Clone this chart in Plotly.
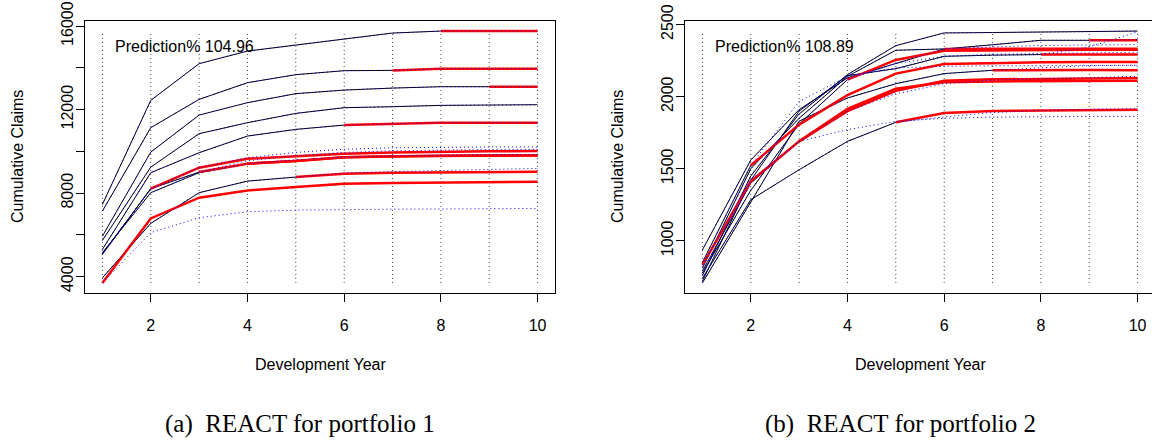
import plotly.graph_objects as go

# ---------------- data ----------------
dev_years = list(range(1, 11))
x_tick_vals = [2, 4, 6, 8, 10]

# Portfolio 1: observed run-off triangle (accident years 1..10)
p1_observed = [
    [5735, 9246, 10846, 11373, 11818, 12091, 12139, 12202, 12218, 12234],
    [5941, 9965, 11737, 12331, 12762, 12935, 13030, 13097, 13097],
    [7459, 12441, 14198, 14802, 15090, 15363, 15665, 15760],
    [7139, 11133, 12489, 13289, 13672, 13863, 13878],
    [5304, 8978, 9935, 10733, 11052, 11258],
    [3948, 6550, 8020, 8576, 8768],
    [5146, 8020, 8978, 9409],
    [5065, 8212, 9007],
    [5100, 8212],
    [3700],
]
# Portfolio 1: REACT predictions for the future cells
p1_predicted = [
    [],
    [13097],
    [15760, 15760],
    [13959, 13959, 13959],
    [11330, 11373, 11373, 11373],
    [8930, 8975, 9000, 9015, 9025],
    [9540, 9720, 9770, 9790, 9800, 9807],
    [9409, 9540, 9720, 9770, 9790, 9800, 9807],
    [9217, 9648, 9750, 9880, 9940, 9980, 10000, 10013],
    [6789, 7780, 8130, 8290, 8450, 8480, 8510, 8530, 8550],
]
# Portfolio 1: actual values of the future cells
p1_actual = [
    [],
    [13097],
    [15760, 15760],
    [13959, 13959, 13959],
    [11330, 11373, 11373, 11373],
    [8960, 9030, 9080, 9130, 9184],
    [9600, 9720, 9790, 9830, 9850, 9855],
    [9550, 9800, 9950, 10030, 10070, 10090, 10094],
    [9217, 9700, 9950, 10100, 10170, 10200, 10210, 10214],
    [6104, 6822, 7110, 7187, 7220, 7230, 7240, 7255, 7268],
]
p1_prediction_pct = "104.96"
p1_ytick_vals = [4000, 6000, 8000, 10000, 12000, 14000, 16000]
p1_ytick_text = ["4000", "", "8000", "", "12000", "", "16000"]

# Portfolio 2
p2_observed = [
    [760, 1450, 1880, 2153, 2354, 2442, 2445, 2449, 2452, 2455],
    [810, 1500, 1850, 2141, 2322, 2331, 2360, 2391, 2391],
    [720, 1420, 1900, 2146, 2194, 2280, 2288, 2292],
    [708, 1273, 1830, 1991, 2090, 2160, 2183],
    [937, 1560, 1910, 2130, 2230, 2331],
    [740, 1285, 1493, 1690, 1822],
    [776, 1350, 1810, 2118],
    [790, 1400, 1690],
    [850, 1523],
    [833],
]
p2_predicted = [
    [],
    [2391],
    [2292, 2292],
    [2185, 2185, 2183],
    [2333, 2333, 2333, 2333],
    [1887, 1900, 1905, 1908, 1910],
    [2255, 2318, 2322, 2325, 2326, 2326],
    [1900, 2040, 2110, 2120, 2125, 2128, 2130],
    [1806, 2010, 2160, 2227, 2235, 2238, 2240, 2241],
    [1412, 1690, 1915, 2055, 2100, 2106, 2109, 2110, 2111],
]
p2_actual = [
    [],
    [2395],
    [2345, 2449],
    [2200, 2215, 2218],
    [2345, 2355, 2358, 2361],
    [1859, 1890, 1905, 1912, 1917],
    [2230, 2280, 2295, 2300, 2305, 2308],
    [1900, 2020, 2090, 2115, 2125, 2135, 2141],
    [1967, 2141, 2200, 2210, 2214, 2216, 2218, 2218],
    [1424, 1690, 1771, 1829, 1850, 1858, 1862, 1863, 1863],
]
p2_prediction_pct = "108.89"
p2_ytick_vals = [1000, 1500, 2000, 2500]
p2_ytick_text = ["1000", "1500", "2000", "2500"]

captions = ["(a)  REACT for portfolio 1", "(b)  REACT for portfolio 2"]
x_title = "Development Year"
y_title = "Cumulative Claims"

# ---------------- figure ----------------
W, H = 1152, 441
SANS = "Liberation Sans, Arial, Helvetica, sans-serif"
SERIF = "Liberation Serif, Times New Roman, serif"

fig = go.Figure()

panels = [
    dict(obs=p1_observed, pred=p1_predicted, act=p1_actual, pct=p1_prediction_pct,
         ytv=p1_ytick_vals, ytt=p1_ytick_text, left=85, right=555, xa="x", ya="y"),
    dict(obs=p2_observed, pred=p2_predicted, act=p2_actual, pct=p2_prediction_pct,
         ytv=p2_ytick_vals, ytt=p2_ytick_text, left=685, right=1155, xa="x2", ya="y2"),
]
top_px, bot_px = 21, 293

shapes = []
annotations = []
for k, p in enumerate(panels):
    allv = [v for row in p["obs"] for v in row] + [v for row in p["pred"] for v in row] + \
           [v for row in p["act"] for v in row]
    lo, hi = min(allv), max(allv)
    pad = 0.04 * (hi - lo)
    p["yrange"] = [lo - pad, hi + pad]
    x0, x1 = 1 - 0.04 * 9, 10 + 0.04 * 9
    right_vis = min(p["right"], W)
    p["xrange"] = [x0, x0 + (x1 - x0) * (right_vis - p["left"]) / (p["right"] - p["left"])]
    p["xdomain"] = [p["left"] / W, right_vis / W]

    # vertical dotted guides spanning the data range
    for d in dev_years:
        shapes.append(dict(type="line", xref=p["xa"], yref=p["ya"], x0=d, x1=d, y0=lo, y1=hi,
                           line=dict(color="#444444", width=1, dash="1px,3px"), layer="below"))

    # observed (black)
    for row in p["obs"]:
        fig.add_trace(go.Scatter(x=dev_years[:len(row)], y=row, mode="lines",
                                 line=dict(color="black", width=1), xaxis=p["xa"], yaxis=p["ya"],
                                 showlegend=False, hoverinfo="skip"))
    # predicted (red)
    for row, pr in zip(p["obs"], p["pred"]):
        if pr:
            n = len(row)
            fig.add_trace(go.Scatter(x=dev_years[n - 1:], y=[row[-1]] + pr, mode="lines",
                                     line=dict(color="#ff0000", width=2.5), xaxis=p["xa"], yaxis=p["ya"],
                                     showlegend=False, hoverinfo="skip"))
    # actual (blue dotted)
    for row, ac in zip(p["obs"], p["act"]):
        fig.add_trace(go.Scatter(x=dev_years, y=row + ac, mode="lines",
                                 line=dict(color="#0000ff", width=1, dash="1px,3px"),
                                 xaxis=p["xa"], yaxis=p["ya"], showlegend=False, hoverinfo="skip"))

    cx = (p["left"] + p["right"]) / 2
    annotations += [
        dict(text="Prediction% " + p["pct"], x=(p["left"] + 28) / W, y=1 - 46.5 / H, xref="paper", yref="paper",
             xanchor="left", yanchor="middle", showarrow=False, font=dict(family=SANS, size=16, color="black")),
        dict(text=y_title, x=(p["left"] - 68) / W, y=1 - 157 / H, xref="paper", yref="paper",
             xanchor="center", yanchor="middle", textangle=-90, showarrow=False,
             font=dict(family=SANS, size=16, color="black")),
        dict(text=x_title, x=cx / W, y=1 - 364 / H, xref="paper", yref="paper",
             xanchor="center", yanchor="middle", showarrow=False, font=dict(family=SANS, size=16, color="black")),
        dict(text=captions[k], x=(cx - 20) / W, y=1 - 424 / H, xref="paper", yref="paper",
             xanchor="center", yanchor="middle", showarrow=False, font=dict(family=SERIF, size=25, color="black")),
    ]

def xaxis_cfg(p):
    return dict(domain=p["xdomain"], range=p["xrange"], anchor=p["ya"], tickmode="array",
                tickvals=x_tick_vals, ticktext=[str(v) for v in x_tick_vals], ticks="outside", ticklen=8,
                tickwidth=1, tickcolor="black", showline=True, linecolor="black", linewidth=1, mirror=True,
                showgrid=False, zeroline=False, tickfont=dict(family=SANS, size=16, color="black"),
                ticklabelstandoff=10, automargin=False)

def yaxis_cfg(p, mirror):
    return dict(domain=[1 - bot_px / H, 1 - top_px / H], range=p["yrange"], anchor=p["xa"], tickmode="array",
                tickvals=p["ytv"], ticktext=p["ytt"], ticks="outside", ticklen=8, tickwidth=1,
                tickcolor="black", showline=True, linecolor="black", linewidth=1, mirror=mirror,
                showgrid=False, zeroline=False, tickangle=-90,
                tickfont=dict(family=SANS, size=16, color="black"), ticklabelstandoff=-3, automargin=False)

fig.update_layout(
    width=W, height=H, autosize=False,
    margin=dict(l=0, r=0, t=0, b=0, pad=0, autoexpand=False),
    paper_bgcolor="white", plot_bgcolor="white",
    xaxis=xaxis_cfg(panels[0]), yaxis=yaxis_cfg(panels[0], True),
    xaxis2=xaxis_cfg(panels[1]), yaxis2=yaxis_cfg(panels[1], False),
    shapes=shapes, annotations=annotations,
)

fig.write_html("out.html", config={"displayModeBar": False},
               post_script="document.body.style.margin='0';document.body.style.overflow='hidden';")
